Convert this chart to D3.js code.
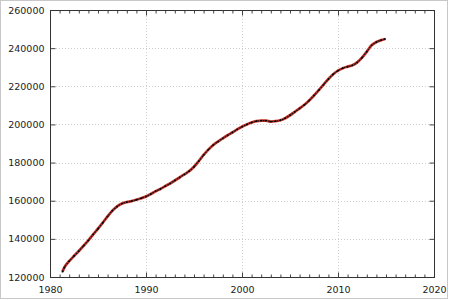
<!DOCTYPE html>
<html><head><meta charset="utf-8">
<script src="https://cdn.jsdelivr.net/npm/d3@7"></script>
<style>html,body{margin:0;padding:0;background:#fff}svg{display:block}</style>
</head><body><svg id="c" width="450" height="300"></svg>
<script>
const years = [1981.3,1981.5,1982.0,1982.5,1983.0,1983.5,1984.0,1984.5,1985.0,1985.5,1986.0,1986.5,1987.0,1987.5,1988.0,1988.5,1989.0,1989.5,1990.0,1990.5,1991.0,1991.5,1992.0,1992.5,1993.0,1993.5,1994.0,1994.5,1995.0,1995.5,1996.0,1996.5,1997.0,1997.5,1998.0,1998.5,1999.0,1999.5,2000.0,2000.5,2001.0,2001.5,2002.0,2002.5,2003.0,2003.5,2004.0,2004.5,2005.0,2005.5,2006.0,2006.5,2007.0,2007.5,2008.0,2008.5,2009.0,2009.5,2010.0,2010.5,2011.0,2011.5,2012.0,2012.5,2013.0,2013.5,2014.0,2014.5,2014.9];
const values = [122800,125000,128300,131000,133600,136400,139200,142300,145300,148500,151800,154800,157000,158500,159300,159800,160500,161300,162200,163500,165000,166200,167600,169000,170600,172200,173800,175500,177800,180800,184000,186800,189200,191000,192700,194300,195800,197400,198800,200000,201000,201700,202000,202000,201500,201700,202200,203300,204800,206600,208400,210300,212600,215200,218000,220900,223800,226300,228200,229500,230300,231000,232500,235000,238200,241500,243200,244200,244800];
const xTicks = [1980,1990,2000,2010,2020];
const yTicks = [120000,140000,160000,180000,200000,220000,240000,260000];

const svg = d3.select("#c");
const L=50,R=434,T=10,B=277;
const x = d3.scaleLinear().domain([1980,2020]).range([L,R]);
const y = d3.scaleLinear().domain([120000,260000]).range([B,T]);
const data = years.map((t,i)=>({t,v:values[i]}));

svg.append("rect").attr("x",0.5).attr("y",0.5).attr("width",447).attr("height",298)
  .attr("fill","#fff").attr("stroke","#c8c8c8");

// grid
const g = svg.append("g");
g.selectAll(".gx").data(xTicks.slice(1,-1)).enter().append("line")
  .attr("x1",d=>Math.round(x(d))+0.5).attr("x2",d=>Math.round(x(d))+0.5).attr("y1",T).attr("y2",B)
  .attr("stroke","#cfcfcf").attr("stroke-dasharray","1,2");
g.selectAll(".gy").data(yTicks.slice(1,-1)).enter().append("line")
  .attr("y1",d=>Math.round(y(d))+0.5).attr("y2",d=>Math.round(y(d))+0.5).attr("x1",L).attr("x2",R)
  .attr("stroke","#cfcfcf").attr("stroke-dasharray","1,2");

// axes
const font = "DejaVu Sans";
svg.append("g").attr("transform",`translate(0,${B+0.5})`)
  .call(d3.axisBottom(x).tickValues(xTicks).tickFormat(d3.format("d")).tickSize(-5).tickPadding(9));
svg.append("g").attr("transform",`translate(${L+0.5},0)`)
  .call(d3.axisLeft(y).tickValues(yTicks).tickFormat(d3.format("d")).tickSize(-5).tickPadding(6));
svg.append("g").attr("transform",`translate(0,${T+0.5})`)
  .call(d3.axisTop(x).tickValues(xTicks).tickFormat("").tickSize(-5));
svg.append("g").attr("transform",`translate(${R+0.5},0)`)
  .call(d3.axisRight(y).tickValues(yTicks).tickFormat("").tickSize(-5));
// minor ticks
const minor = d3.range(1981,2020).filter(d=>d%10!==0);
svg.append("g").attr("transform",`translate(0,${B+0.5})`)
  .call(d3.axisBottom(x).tickValues(minor).tickFormat("").tickSize(-3));
svg.append("g").attr("transform",`translate(0,${T+0.5})`)
  .call(d3.axisTop(x).tickValues(minor).tickFormat("").tickSize(-3));
svg.selectAll(".domain").remove();
svg.selectAll(".tick line").attr("stroke","#444");
svg.selectAll(".tick text").attr("font-family",font).attr("font-size","9.5px").attr("fill","#222");

svg.append("rect").attr("x",L+0.5).attr("y",T+0.5).attr("width",R-L).attr("height",B-T)
  .attr("fill","none").attr("stroke","#333");

const line = d3.line().x(d=>x(d.t)).y(d=>y(d.v)).curve(d3.curveMonotoneX);
svg.append("path").datum(data).attr("d",line).attr("fill","none").attr("stroke","#c8362e").attr("stroke-width",2.8);
svg.append("path").datum(data).attr("d",line).attr("fill","none").attr("stroke","#111").attr("stroke-width",1.1)
  .attr("stroke-dasharray","2,0.8");
svg.selectAll(".pt").data(data).enter().append("circle")
  .attr("cx",d=>x(d.t)).attr("cy",d=>y(d.v)).attr("r",0.9).attr("fill","#000");
</script></body></html>
